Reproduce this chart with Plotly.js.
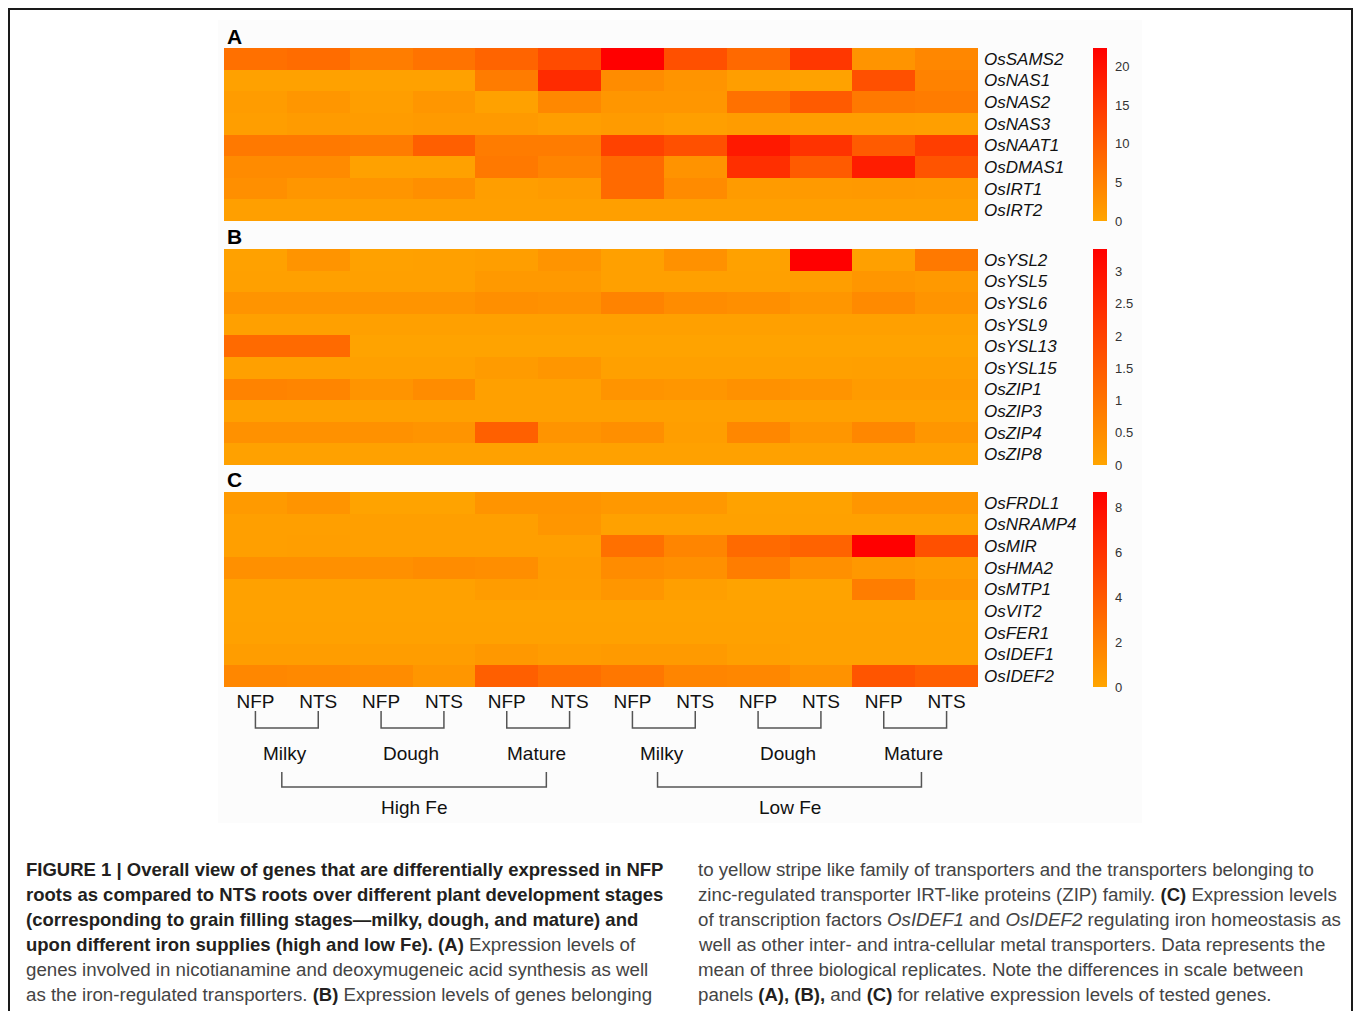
<!DOCTYPE html>
<html>
<head>
<meta charset="utf-8">
<script src="https://cdn.plot.ly/plotly-3.0.1.min.js"></script>
<style>
  html, body { margin: 0; padding: 0; background: #ffffff; }
  #chart { width: 1355px; height: 1011px; }
</style>
</head>
<body>
<div id="chart"></div>
<script>
// ---------------- DATA ----------------
const columnLabels = ["NFP","NTS","NFP","NTS","NFP","NTS","NFP","NTS","NFP","NTS","NFP","NTS"];
const stageLabels = ["Milky","Dough","Mature","Milky","Dough","Mature"];
const ironLabels = ["High Fe","Low Fe"];

const genesA = ["OsSAMS2","OsNAS1","OsNAS2","OsNAS3","OsNAAT1","OsDMAS1","OsIRT1","OsIRT2"];
const valuesA = [
  [7.2, 7.7, 5.4, 6.8, 8.8, 12.2, 22.4, 11.5, 8.1, 14.9, 2.3, 4.1],
  [0.5, 0.5, 0.6, 0.6, 5.5, 16.5, 3.4, 2.3, 1.0, 0.4, 11.5, 4.8],
  [1.2, 2.0, 1.0, 2.0, 0.6, 4.0, 2.0, 2.0, 7.0, 10.0, 6.0, 5.5],
  [1.0, 1.3, 1.2, 1.5, 1.5, 1.0, 1.3, 0.8, 1.2, 1.0, 1.0, 0.8],
  [6.0, 6.0, 5.5, 9.5, 5.5, 5.5, 13.5, 11.5, 19.0, 15.5, 10.0, 14.0],
  [3.5, 3.5, 0.5, 0.5, 6.0, 4.5, 8.0, 2.5, 16.0, 10.0, 18.5, 11.0],
  [3.0, 2.0, 2.2, 3.0, 1.0, 1.3, 8.0, 3.5, 1.3, 1.5, 1.6, 1.5],
  [0.8, 0.8, 0.8, 0.8, 0.8, 0.8, 0.8, 0.8, 0.8, 0.8, 0.8, 0.8]
];
const ticksA = [0, 5, 10, 15, 20];
const maxA = 22.4;

const genesB = ["OsYSL2","OsYSL5","OsYSL6","OsYSL9","OsYSL13","OsYSL15","OsZIP1","OsZIP3","OsZIP4","OsZIP8"];
const valuesB = [
  [0.08, 0.35, 0.08, 0.10, 0.15, 0.35, 0.10, 0.40, 0.08, 3.35, 0.10, 0.90],
  [0.10, 0.10, 0.10, 0.10, 0.25, 0.25, 0.10, 0.10, 0.10, 0.15, 0.30, 0.25],
  [0.35, 0.35, 0.35, 0.35, 0.45, 0.40, 0.70, 0.50, 0.45, 0.30, 0.55, 0.35],
  [0.10, 0.10, 0.10, 0.10, 0.10, 0.10, 0.10, 0.10, 0.10, 0.10, 0.10, 0.10],
  [1.20, 1.20, 0.05, 0.05, 0.05, 0.05, 0.05, 0.05, 0.05, 0.05, 0.05, 0.05],
  [0.10, 0.10, 0.10, 0.10, 0.20, 0.30, 0.10, 0.10, 0.10, 0.10, 0.12, 0.12],
  [0.70, 0.65, 0.35, 0.50, 0.10, 0.10, 0.35, 0.30, 0.40, 0.35, 0.20, 0.20],
  [0.10, 0.10, 0.10, 0.10, 0.10, 0.10, 0.10, 0.10, 0.10, 0.10, 0.10, 0.10],
  [0.40, 0.40, 0.40, 0.35, 1.40, 0.35, 0.45, 0.15, 0.60, 0.30, 0.60, 0.30],
  [0.08, 0.08, 0.08, 0.08, 0.08, 0.08, 0.08, 0.08, 0.08, 0.08, 0.08, 0.08]
];
const ticksB = [0, 0.5, 1, 1.5, 2, 2.5, 3];
const maxB = 3.35;

const genesC = ["OsFRDL1","OsNRAMP4","OsMIR","OsHMA2","OsMTP1","OsVIT2","OsFER1","OsIDEF1","OsIDEF2"];
const valuesC = [
  [0.6, 0.9, 0.1, 0.1, 0.9, 0.9, 0.7, 0.7, 0.15, 0.15, 0.8, 0.8],
  [0.3, 0.3, 0.3, 0.3, 0.3, 0.8, 0.2, 0.2, 0.2, 0.2, 0.2, 0.2],
  [0.3, 0.35, 0.3, 0.3, 0.3, 0.3, 2.8, 1.7, 3.1, 3.5, 8.7, 4.5],
  [1.1, 1.1, 1.1, 1.3, 1.2, 0.5, 1.3, 1.1, 2.1, 1.1, 0.7, 0.5],
  [0.2, 0.2, 0.2, 0.2, 0.5, 0.4, 0.8, 0.3, 0.1, 0.1, 2.1, 0.8],
  [0.15, 0.15, 0.15, 0.15, 0.15, 0.15, 0.15, 0.15, 0.15, 0.15, 0.15, 0.15],
  [0.2, 0.2, 0.2, 0.2, 0.2, 0.2, 0.2, 0.2, 0.2, 0.2, 0.2, 0.2],
  [0.4, 0.4, 0.4, 0.4, 0.7, 0.5, 0.6, 0.6, 0.3, 0.2, 0.2, 0.2],
  [1.6, 1.5, 1.3, 0.8, 3.7, 2.9, 2.4, 1.7, 1.6, 1.0, 4.2, 3.7]
];
const ticksC = [0, 2, 4, 6, 8];
const maxC = 8.7;

const captionLeft = [
  "<b>FIGURE 1 | Overall view of genes that are differentially expressed in NFP</b>",
  "<b>roots as compared to NTS roots over different plant development stages</b>",
  "<b>(corresponding to grain filling stages\u2014milky, dough, and mature) and</b>",
  "<b>upon different iron supplies (high and low Fe). (A)</b> Expression levels of",
  "genes involved in nicotianamine and deoxymugeneic acid synthesis as well",
  "as the iron-regulated transporters. <b>(B)</b> Expression levels of genes belonging"
];
const captionRight = [
  "to yellow stripe like family of transporters and the transporters belonging to",
  "zinc-regulated transporter IRT-like proteins (ZIP) family. <b>(C)</b> Expression levels",
  "of transcription factors <i>OsIDEF1</i> and <i>OsIDEF2</i> regulating iron homeostasis as",
  "well as other inter- and intra-cellular metal transporters. Data represents the",
  "mean of three biological replicates. Note the differences in scale between",
  "panels <b>(A), (B),</b> and <b>(C)</b> for relative expression levels of tested genes."
];

// ---------------- LAYOUT HELPERS ----------------
const W = 1355, H = 1011;
const fx = px => px / W;
const fy = py => 1 - py / H;
const cols = columnLabels.map((_, i) => i);
const scale = [[0, "#FFA500"], [1, "#FF0000"]];
const FONT = "Liberation Sans, Arial, sans-serif";
const boldSpan = s => s.replace(/<b>(.*?)<\/b>/g,
  "<b><span style=\"font-size:18.5px;fill:#231f20\">$1</span></b>");

const heatX = [224, 978];
const panels = [
  {genes: genesA, z: valuesA, ticks: ticksA, zmax: maxA, top: 48, bottom: 221},
  {genes: genesB, z: valuesB, ticks: ticksB, zmax: maxB, top: 249, bottom: 465},
  {genes: genesC, z: valuesC, ticks: ticksC, zmax: maxC, top: 492, bottom: 687}
];

const data = [];
const layout = {
  width: W, height: H,
  margin: {l: 0, r: 0, t: 0, b: 0},
  paper_bgcolor: "#ffffff",
  plot_bgcolor: "#ffffff",
  font: {family: FONT, color: "#222"},
  showlegend: false,
  annotations: [],
  shapes: []
};

panels.forEach((p, k) => {
  const n = k + 1;
  const xa = n === 1 ? "x" : "x" + n;
  const ya = n === 1 ? "y" : "y" + n;
  data.push({
    type: "heatmap",
    x: cols, y: p.genes, z: p.z,
    xaxis: xa, yaxis: ya,
    zmin: 0, zmax: p.zmax,
    colorscale: scale,
    zsmooth: false,
    hoverongaps: false,
    colorbar: {
      x: fx(1093), xanchor: "left", xref: "paper",
      y: fy(p.bottom), yanchor: "bottom", yref: "paper",
      lenmode: "pixels", len: p.bottom - p.top,
      thicknessmode: "pixels", thickness: 14,
      xpad: 0, ypad: 0, outlinewidth: 0,
      tickvals: p.ticks, ticks: "outside", ticklen: 6,
      tickcolor: "rgba(0,0,0,0)",
      tickfont: {family: FONT, size: 13, color: "#333"}
    }
  });
  layout["xaxis" + (n === 1 ? "" : n)] = {
    domain: [fx(heatX[0]), fx(heatX[1])],
    anchor: ya,
    range: [-0.5, cols.length - 0.5],
    showgrid: false, zeroline: false, showline: false,
    ticks: "",
    tickvals: cols, ticktext: columnLabels,
    showticklabels: n === 3,
    ticklabelstandoff: 1,
    tickfont: {family: FONT, size: 19, color: "#111"},
    fixedrange: true
  };
  layout["yaxis" + (n === 1 ? "" : n)] = {
    domain: [fy(p.bottom), fy(p.top)],
    anchor: xa,
    side: "right",
    type: "category",
    autorange: "reversed",
    showgrid: false, zeroline: false, showline: false,
    ticks: "",
    ticklabelstandoff: 5,
    tickfont: {family: FONT, size: 17, color: "#111", style: "italic"},
    fixedrange: true
  };
});

// panel letters
[["A", 36], ["B", 236], ["C", 480]].forEach(([t, py]) => {
  layout.annotations.push({
    text: "<b>" + t + "</b>", xref: "paper", yref: "paper",
    x: fx(225), y: fy(py), xanchor: "left", yanchor: "middle",
    showarrow: false, font: {family: FONT, size: 21, color: "#000"}
  });
});

// stage labels and pair brackets (data coordinates on the x3 axis)
const lineStyle = {color: "#555", width: 1.5};
stageLabels.forEach((s, i) => {
  const a = cols[2 * i], b = cols[2 * i + 1];
  layout.shapes.push({
    type: "path", xref: "x3", yref: "paper",
    path: `M ${a},${fy(711)} L ${a},${fy(728)} L ${b},${fy(728)} L ${b},${fy(711)}`,
    line: lineStyle
  });
  layout.annotations.push({
    text: s, xref: "x3", yref: "paper", x: (a + b) / 2 - 0.03, y: fy(753),
    xanchor: "center", yanchor: "middle", showarrow: false,
    font: {family: FONT, size: 19, color: "#111"}
  });
});
// iron supply brackets
const ironSpans = [[0.42, 4.63], [6.4, 10.6]];
ironLabels.forEach((s, i) => {
  const [a, b] = ironSpans[i];
  layout.shapes.push({
    type: "path", xref: "x3", yref: "paper",
    path: `M ${a},${fy(772)} L ${a},${fy(787)} L ${b},${fy(787)} L ${b},${fy(772)}`,
    line: lineStyle
  });
  layout.annotations.push({
    text: s, xref: "x3", yref: "paper", x: (a + b) / 2, y: fy(807),
    xanchor: "center", yanchor: "middle", showarrow: false,
    font: {family: FONT, size: 19, color: "#111"}
  });
});

// faint figure background and outer frame
layout.shapes.push({
  type: "rect", xref: "paper", yref: "paper", layer: "below",
  x0: fx(218), x1: fx(1142), y0: fy(823), y1: fy(20),
  line: {width: 0}, fillcolor: "#fcfcfc"
});
layout.shapes.push({
  type: "rect", xref: "paper", yref: "paper", layer: "above",
  x0: fx(9), x1: fx(1352), y0: fy(1030), y1: fy(9),
  line: {color: "#1a1a1a", width: 2}, fillcolor: "rgba(0,0,0,0)"
});

// caption
const capY = [869, 894, 919, 944, 969, 994];
captionLeft.forEach((t, i) => {
  layout.annotations.push({
    text: boldSpan(t), xref: "paper", yref: "paper",
    x: fx(24), y: fy(capY[i]), xanchor: "left", yanchor: "middle",
    showarrow: false, align: "left",
    font: {family: FONT, size: 18.7, color: "#444"}
  });
});
captionRight.forEach((t, i) => {
  layout.annotations.push({
    text: boldSpan(t), xref: "paper", yref: "paper",
    x: fx(696), y: fy(capY[i]), xanchor: "left", yanchor: "middle",
    showarrow: false, align: "left",
    font: {family: FONT, size: 18.7, color: "#444"}
  });
});

Plotly.newPlot("chart", data, layout, {staticPlot: true, displayModeBar: false});
</script>
</body>
</html>
